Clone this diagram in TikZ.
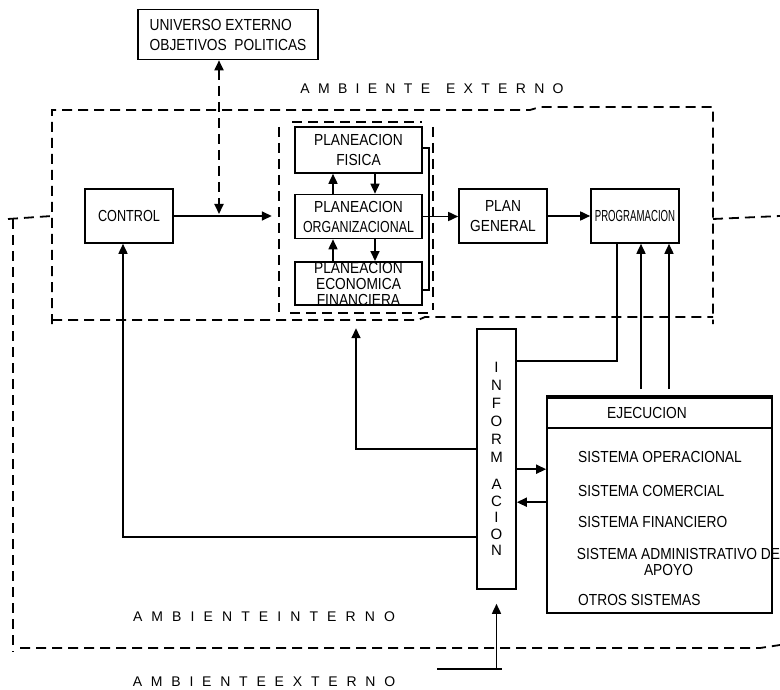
\documentclass[tikz,border=0pt]{standalone}
\usepackage{fontspec}
\usepackage{graphicx}
\setmainfont{Liberation Sans}[FakeStretch=0.86]
\newfontfamily\widesans{Liberation Sans}
\usetikzlibrary{arrows.meta}
\begin{document}
\begin{tikzpicture}[x=1pt,y=-1pt,
  box/.style={draw, line width=1.6pt, inner sep=0pt, align=center},
  lbl/.style={inner sep=0pt, align=center},
  link/.style={line width=1.6pt},
  arr/.style={link, -{Triangle[length=10pt,width=9pt]}},
  env/.style={line width=1.8pt, dash pattern=on 10pt off 6pt},
  spaced/.style={inner sep=0pt, font=\widesans\fontsize{14}{16}\selectfont},
  font=\fontsize{16}{20}\selectfont]
\useasboundingbox (0,0) rectangle (780,690);

% --- boundary of the internal environment and the external one
\draw[env] (52,324) -- (52,110) -- (530,110) -- (540,107) -- (713,107) -- (713,324);
\draw[env] (52,320) -- (418,320) -- (425,317) -- (713,317);
\draw[env] (8,219) -- (52,216);
\draw[env] (13,219) -- (13,652);
\draw[env] (20,648) -- (760,648) -- (780,645);
\draw[env] (713,219) -- (780,216);

\node[spaced] (extTop) at (432,89) {\spaceskip=8.3pt\relax A M B I E N T E\hspace{16pt}E X T E R N O};
\node[spaced] (intLbl) at (264,617) {\spaceskip=9.1pt\relax A M B I E N T E I N T E R N O};
\node[spaced] (extBot) at (264,682) {\spaceskip=8.8pt\relax A M B I E N T E E X T E R N O};

% --- boxes
\node[box, minimum width=180, minimum height=50, align=left] (univ) at (228,34.5)
  {UNIVERSO EXTERNO\\OBJETIVOS\ \ POLITICAS};
\node[box, minimum width=88, minimum height=54] (control) at (129,216) {\scalebox{0.92}[1]{CONTROL}};

\node[inner sep=0pt, minimum width=154, minimum height=191] (grp) at (356,217.5) {};
\draw[env] (292,122) -- (422,122);
\draw[env] (279,127) -- (279,312);
\draw[env] (433,127) -- (433,310);
\draw[env] (290,313) -- (428,313);

\node[box, minimum width=127, minimum height=46] (fisica) at (358.5,150) {PLANEACION\\FISICA};
\node[box, minimum width=127, minimum height=44] (org) at (358.5,216.5) {PLANEACION\\\scalebox{0.9}[1]{ORGANIZACIONAL}};
\node[box, minimum width=127, minimum height=43, font=\fontsize{16}{16}\selectfont] (econ) at (358.5,283.5)
  {PLANEACION\\ECONOMICA\\FINANCIERA};

\node[box, minimum width=88, minimum height=54] (plangen) at (503,216) {PLAN\\GENERAL};
\node[box, minimum width=88, minimum height=54] (prog) at (635,216) {\scalebox{0.7}[1]{PROGRAMACION}};

\node[box, minimum width=39, minimum height=260, font=\widesans\fontsize{15}{18}\selectfont] (info) at (496.5,459)
  {I\\N\\F\\O\\R\\M\\[9pt]A\\[-1.5pt]C\\[-1.5pt]I\\[-1.5pt]O\\[-1.5pt]N};

\node[box, minimum width=225, minimum height=217] (ejec) at (659.5,504.5) {};
\draw[line width=1.6pt] ([yshift=-2.5pt]ejec.north west) -- ([yshift=-2.5pt]ejec.north east);
\draw[line width=1.6pt] ([yshift=-33pt]ejec.north west) -- ([yshift=-33pt]ejec.north east);
\node[lbl] (ejtitle) at (647,413) {EJECUCION};
\node[lbl, anchor=west] (sop) at (578,457) {SISTEMA OPERACIONAL};
\node[lbl, anchor=west] (scom) at (578,491) {SISTEMA COMERCIAL};
\node[lbl, anchor=west] (sfin) at (578,522) {SISTEMA FINANCIERO};
\node[lbl, font=\fontsize{16}{16}\selectfont] (sadm) at (678.5,562) {SISTEMA ADMINISTRATIVO DE\\APOYO\hspace*{20pt}};
\node[lbl, anchor=west] (sotros) at (578,600) {OTROS SISTEMAS};

% --- connectors
\coordinate (fbin) at (219,214);
\draw[env, {Triangle[length=10pt,width=9pt]}-{Triangle[length=10pt,width=9pt]}] ([xshift=-9pt]univ.south) -- (fbin);
\draw[arr, shorten >=7pt] (control.east) -- (control.east -| grp.west);

\draw[arr] ([xshift=-25.5pt]org.north) -- ([xshift=-25.5pt]fisica.south);
\draw[arr] ([xshift=16.5pt]fisica.south) -- ([xshift=16.5pt]org.north);
\draw[arr] ([xshift=-25.5pt]econ.north) -- ([xshift=-25.5pt]org.south);
\draw[arr] ([xshift=16.5pt]org.south) -- ([xshift=16.5pt]econ.north);

\draw[link] ([yshift=2pt]fisica.east) -| ([xshift=6pt,yshift=-6.5pt]econ.east) -- ([yshift=-6.5pt]econ.east);
\draw[arr] (org.east) -- (org.east -| plangen.west);
\draw[arr] (plangen.east) -- (prog.west);

\draw[link] ([xshift=-18pt]prog.south) |- ([yshift=-33pt]info.north east);
\draw[arr, shorten <=6pt] ([xshift=6pt]prog.south |- ejec.north) -- ([xshift=6pt]prog.south);
\draw[arr, shorten <=6pt] ([xshift=34pt]prog.south |- ejec.north) -- ([xshift=34pt]prog.south);

\coordinate (i1) at ([yshift=-141pt]info.north east);
\coordinate (i2) at ([yshift=-174pt]info.north east);
\coordinate (i3) at ([yshift=-121pt]info.north west);
\coordinate (i4) at ([yshift=-209pt]info.north west);
\draw[arr] (i1) -- (i1 -| ejec.west);
\draw[arr] (i2 -| ejec.west) -- (i2);
\draw[arr, shorten >=15pt] (i3) -| (grp.south);
\draw[arr] (i4) -| ([xshift=-6pt]control.south);

\coordinate (inb) at (437,669);
\draw[link] (inb) -- ([xshift=5.5pt]info.south |- inb);
\draw[arr, shorten >=14pt] (info.south |- inb) -- (info.south);
\end{tikzpicture}
\end{document}
